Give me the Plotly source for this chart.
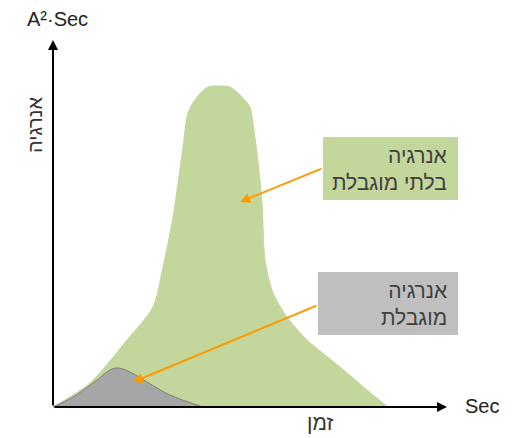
import plotly.graph_objects as go

# Curve data (time units, energy units)
green_x = [0, 37, 74, 100, 110, 120, 130, 135, 144, 155, 169, 177, 187, 197, 199, 204, 209, 212, 220, 234, 254, 287, 314, 335]
green_y = [0, 24, 67, 100, 140, 190, 260, 294, 310, 320, 321, 320, 312, 300, 290, 254, 204, 147, 114, 90, 67, 40, 17, 0]
gray_x = [0, 20, 44, 57, 65, 77, 94, 117, 150]
gray_y = [0, 10, 27, 37, 39, 35, 25, 12, 0]

label_unlimited = "אנרגיה<br>בלתי מוגבלת"
label_limited = "אנרגיה<br>מוגבלת"
y_title = "אנרגיה"
x_title = "זמן"
y_unit = "A²·Sec"
x_unit = "Sec"

GREEN = "#c3d69b"
GRAY_FILL = "#a6a6a6"
GRAY_BOX = "#bfbfbf"
ORANGE = "#ff9900"
FONT = "Liberation Sans, DejaVu Sans, Arial, sans-serif"

fig = go.Figure()
fig.add_trace(go.Scatter(x=green_x, y=green_y, mode="lines", fill="toself",
                         fillcolor=GREEN, line=dict(color=GREEN, width=1, shape="spline", smoothing=0.8),
                         hoverinfo="skip"))
fig.add_trace(go.Scatter(x=gray_x, y=gray_y, mode="lines", fill="toself",
                         fillcolor=GRAY_FILL, line=dict(color="#7f7f7f", width=1, shape="spline", smoothing=1),
                         hoverinfo="skip"))

shapes = [
    dict(type="rect", x0=270, x1=405, y0=207, y1=270, fillcolor=GREEN, line=dict(width=0), layer="above"),
    dict(type="rect", x0=265, x1=405, y0=72, y1=135, fillcolor=GRAY_BOX, line=dict(width=0), layer="above"),
]

annotations = [
    # axes arrows
    dict(x=0, y=367, ax=0, ay=0, xref="x", yref="y", axref="x", ayref="y", text="",
         showarrow=True, arrowhead=2, arrowsize=1, arrowwidth=2, arrowcolor="black"),
    dict(x=394, y=0, ax=0, ay=0, xref="x", yref="y", axref="x", ayref="y", text="",
         showarrow=True, arrowhead=2, arrowsize=1, arrowwidth=2, arrowcolor="black"),
    # orange pointers
    dict(x=187, y=205, ax=270, ay=239, xref="x", yref="y", axref="x", ayref="y", text="",
         showarrow=True, arrowhead=2, arrowsize=1, arrowwidth=2, arrowcolor=ORANGE),
    dict(x=80, y=25, ax=265, ay=102, xref="x", yref="y", axref="x", ayref="y", text="",
         showarrow=True, arrowhead=2, arrowsize=1, arrowwidth=2, arrowcolor=ORANGE),
    # box labels
    dict(x=396, y=238.5, xref="x", yref="y", text=label_unlimited, showarrow=False,
         xanchor="right", yanchor="middle", align="right",
         font=dict(family=FONT, size=21, color="#404040")),
    dict(x=396, y=103.5, xref="x", yref="y", text=label_limited, showarrow=False,
         xanchor="right", yanchor="middle", align="right",
         font=dict(family=FONT, size=21, color="#404040")),
    # axis titles
    dict(x=-18, y=282, xref="x", yref="y", text=y_title, showarrow=False, textangle=-90,
         font=dict(family=FONT, size=20, color="#333333")),
    dict(x=267, y=-15, xref="x", yref="y", text=x_title, showarrow=False,
         font=dict(family=FONT, size=21, color="#333333")),
    dict(x=-28, y=388, xref="x", yref="y", text=y_unit, showarrow=False, xanchor="left",
         font=dict(family=FONT, size=20, color="#222222")),
    dict(x=410, y=1, xref="x", yref="y", text=x_unit, showarrow=False, xanchor="left",
         font=dict(family=FONT, size=20, color="#222222")),
]

fig.update_layout(
    width=511, height=430, margin=dict(l=0, r=0, t=0, b=0),
    paper_bgcolor="white", plot_bgcolor="white", showlegend=False,
    xaxis=dict(range=[-45, 466], visible=False, fixedrange=True),
    yaxis=dict(range=[-31, 399], visible=False, fixedrange=True),
    shapes=shapes, annotations=annotations,
)

fig.write_html("out.html", config={"displayModeBar": False})
